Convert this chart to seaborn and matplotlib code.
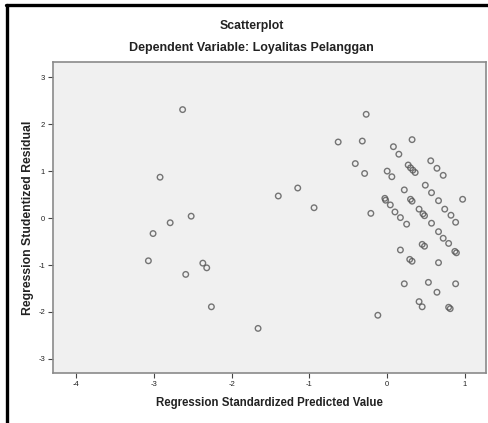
import matplotlib
matplotlib.use("Agg")
import matplotlib.pyplot as plt
import seaborn as sns
import pandas as pd
from matplotlib.lines import Line2D

title = "Scatterplot"
subtitle = "Dependent Variable: Loyalitas Pelanggan"
x_label = "Regression Standardized Predicted Value"
y_label = "Regression Studentized Residual"
x_ticks = [-4, -3, -2, -1, 0, 1]
y_ticks = [-3, -2, -1, 0, 1, 2, 3]

predicted = [
    -2.63, -2.92, -1.40, -2.52, -2.79, -3.01, -3.07, -2.37, -2.32, -2.59, -2.26, -1.66, -1.15, -0.94,
    -0.27, -0.63, -0.32, -0.41, -0.29, -0.21, -0.12,
    0.32, 0.08, 0.15, 0.00, 0.06,
    0.27, 0.30, 0.33, 0.36,
    0.56, 0.64, 0.72,
    0.22, 0.49, 0.57, 0.66,
    0.30, 0.32,
    0.41, 0.46, 0.48,
    0.97,
    -0.03, -0.02, 0.04, 0.10, 0.17, 0.25,
    0.74, 0.82, 0.88,
    0.57, 0.66, 0.72, 0.79,
    0.45, 0.48,
    0.17,
    0.29, 0.32,
    0.87, 0.89,
    0.66,
    0.22, 0.53, 0.64, 0.88,
    0.41, 0.45,
    0.79, 0.81,
]
residual = [
    2.31, 0.87, 0.47, 0.04, -0.10, -0.33, -0.91, -0.96, -1.06, -1.20, -1.89, -2.35, 0.64, 0.22,
    2.21, 1.62, 1.64, 1.16, 0.95, 0.10, -2.07,
    1.67, 1.52, 1.36, 1.00, 0.88,
    1.13, 1.07, 1.02, 0.97,
    1.22, 1.06, 0.91,
    0.60, 0.70, 0.54, 0.37,
    0.40, 0.36,
    0.19, 0.09, 0.05,
    0.40,
    0.42, 0.38, 0.28, 0.13, 0.01, -0.13,
    0.19, 0.06, -0.09,
    -0.11, -0.29, -0.43, -0.54,
    -0.56, -0.60,
    -0.68,
    -0.88, -0.92,
    -0.71, -0.74,
    -0.95,
    -1.40, -1.37, -1.58, -1.40,
    -1.78, -1.89,
    -1.90, -1.93,
]

df = pd.DataFrame({"pred": predicted, "resid": residual})

sns.set_theme(style="white")
plt.rcParams["font.family"] = ["Liberation Sans", "DejaVu Sans"]

fig = plt.figure(figsize=(4.89, 4.23), dpi=100)
fig.patch.set_facecolor("white")
ax = fig.add_axes([0.1078, 0.1182, 0.886, 0.7359])
ax.set_facecolor("#f0f0f0")

sns.scatterplot(data=df, x="pred", y="resid", ax=ax, marker="o", s=16,
                facecolors="none", edgecolor="#555555", linewidth=1.0, alpha=0.8)

ax.set_xlim(-4.30, 1.27)
ax.set_ylim(-3.30, 3.33)
ax.set_xticks(x_ticks)
ax.set_yticks(y_ticks)
ax.set_xticklabels([str(t) for t in x_ticks], fontsize=5.5, color="#222222")
ax.set_yticklabels([str(t) for t in y_ticks], fontsize=5.5, color="#222222")
ax.tick_params(axis="both", direction="out", length=3.5, width=0.8, color="#444444", pad=2,
               bottom=True, left=True)
for side, sp in ax.spines.items():
    sp.set_visible(True)
    sp.set_color("#8a8a8a")
    sp.set_linewidth(1.2)

ax.set_xlabel(x_label, fontsize=8.3, fontweight="bold", color="#222222", labelpad=7)
ax.set_ylabel(y_label, fontsize=8.8, fontweight="bold", color="#222222", labelpad=3)

title_x = 251.5 / 489
fig.text(title_x, 1 - 26.5 / 423, title, ha="center", va="center",
         fontsize=8.8, fontweight="bold", color="#222222")
fig.text(title_x, 1 - 48 / 423, subtitle, ha="center", va="center",
         fontsize=9, fontweight="bold", color="#222222")

# outer black border (top and left only, as in the cropped screenshot)
fig.add_artist(Line2D([7 / 489, 7 / 489], [0, 1 - 5 / 423], transform=fig.transFigure,
                      color="black", linewidth=2.4))
fig.add_artist(Line2D([6 / 489, 1], [1 - 5.5 / 423, 1 - 5.5 / 423], transform=fig.transFigure,
                      color="black", linewidth=2.4))

fig.savefig("out.png", dpi=100, facecolor="white")
